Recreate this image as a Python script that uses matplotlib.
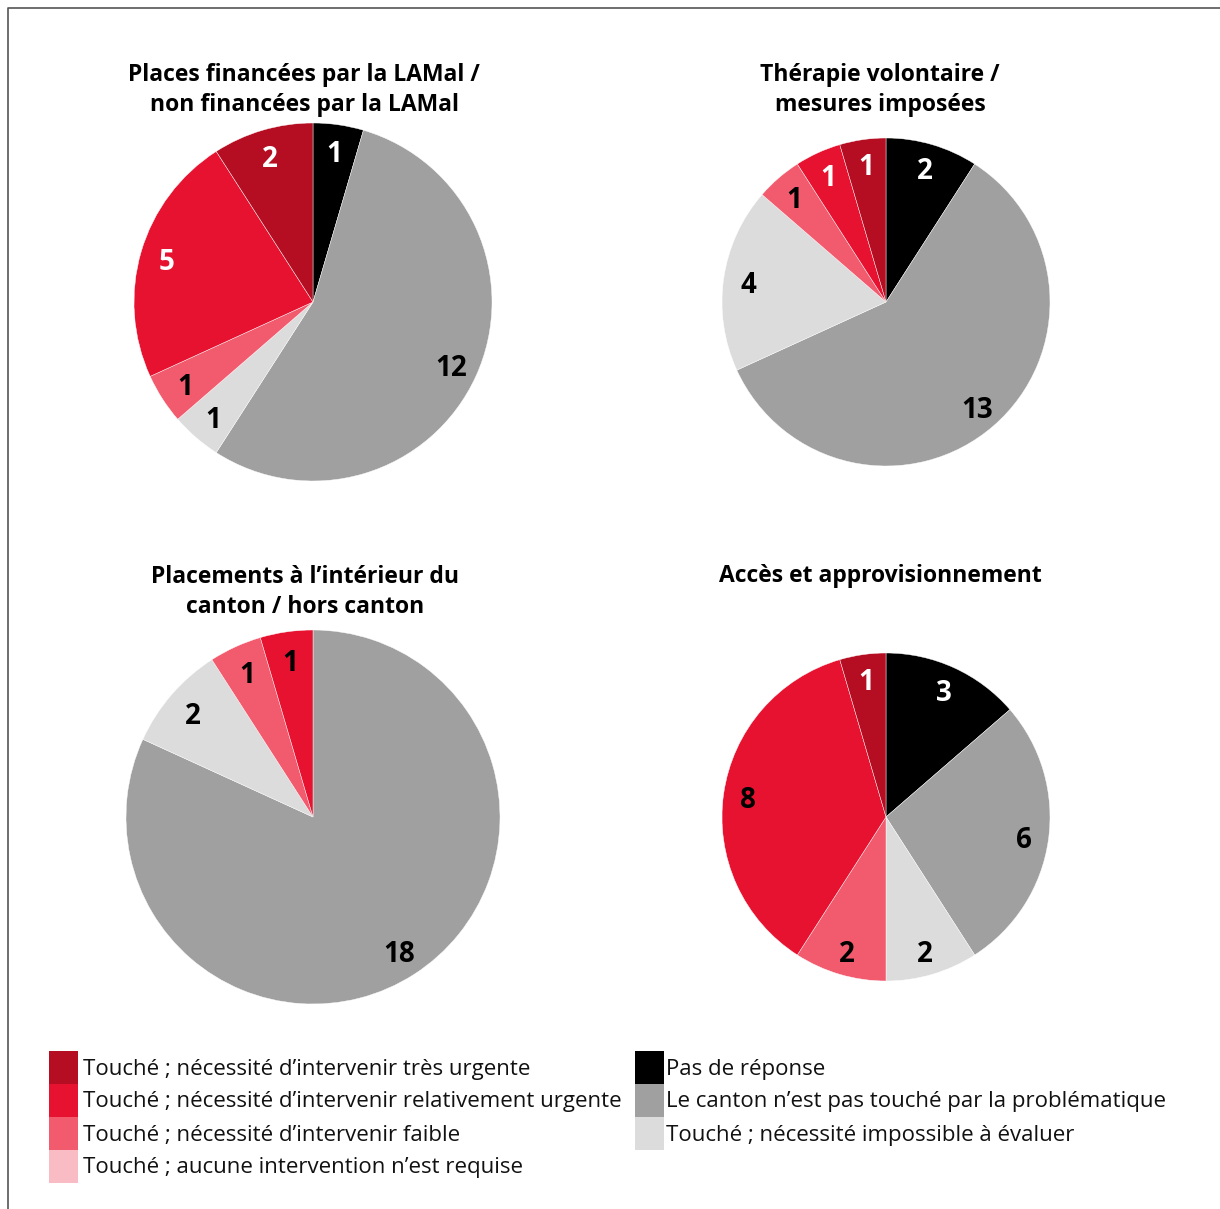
import matplotlib
matplotlib.use('Agg')
import matplotlib.pyplot as plt
from matplotlib.patches import Rectangle

plt.rcParams['font.family'] = ['Open Sans', 'DejaVu Sans']

categories = ['Pas de réponse',
              'Le canton n\u2019est pas touché par la problématique',
              'Touché ; nécessité impossible à évaluer',
              'Touché ; aucune intervention n\u2019est requise',
              'Touché ; nécessité d\u2019intervenir faible',
              'Touché ; nécessité d\u2019intervenir relativement urgente',
              'Touché ; nécessité d\u2019intervenir très urgente']
colors = ['#000000', '#a0a0a0', '#dcdcdc', '#f9bcc4', '#f25a6e', '#e61230', '#b50e22']

titles = ['Places financées par la LAMal /\nnon financées par la LAMal',
          'Thérapie volontaire /\nmesures imposées',
          'Placements à l\u2019intérieur du\ncanton / hors canton',
          'Accès et approvisionnement']
financement = [1, 12, 1, 0, 1, 5, 2]
therapie = [2, 13, 4, 0, 1, 1, 1]
placements = [0, 18, 2, 0, 1, 1, 0]
acces = [3, 6, 2, 0, 2, 8, 1]
series = [financement, therapie, placements, acces]

W, H = 1220, 1209
fig = plt.figure(figsize=(W / 100, H / 100), dpi=100)

# pie centres and radii in pixels, title positions
pies = [((313, 302), 179, (304, 90)),
        ((886, 302), 164, (880, 90)),
        ((313, 817), 187, (305, 592)),
        ((886, 817), 164, (880, 576))]

for k, (vals, title, ((cx, cy), r, (tx, ty))) in enumerate(zip(series, titles, pies)):
    ax = fig.add_axes([(cx - r) / W, (H - cy - r) / H, 2 * r / W, 2 * r / H])
    v = [x for x in vals if x > 0]
    c = [col for x, col in zip(vals, colors) if x > 0]
    wedges, texts = ax.pie(v, colors=c, startangle=90, counterclock=False, radius=1,
                           labels=[str(x) for x in v], labeldistance=0.85,
                           wedgeprops=dict(edgecolor='white', linewidth=0.3),
                           textprops=dict(fontsize=20, fontweight='bold'))
    for t, col in zip(texts, c):
        t.set_ha('center')
        t.set_va('center_baseline')
        white = col in ('#000000', '#b50e22') or (col == '#e61230' and k < 2)
        t.set_color('white' if white else 'black')
    ax.set_xlim(-1, 1)
    ax.set_ylim(-1, 1)
    ax.set_aspect('auto')
    fig.text(tx / W, 1 - ty / H, title, ha='center', va='center', fontsize=16.5,
             fontweight='bold', linespacing=1.3)

# overlay for legend and frame
ov = fig.add_axes([0, 0, 1, 1])
ov.set_xlim(0, W)
ov.set_ylim(H, 0)
ov.axis('off')
ov.plot([7.5, 7.5, W], [H, 7.5, 7.5], color='#555555', lw=1.2)

left = [6, 5, 4, 3]
right = [0, 1, 2]
for col_items, sx, tx in [(left, 49, 83), (right, 635, 666)]:
    for i, idx in enumerate(col_items):
        y0 = 1051 + i * 33
        ov.add_patch(Rectangle((sx, y0), 29, 33, color=colors[idx], lw=0))
        ov.text(tx, y0 + 18, categories[idx], ha='left', va='center', fontsize=16,
                color='#111111')

fig.savefig('out.png', dpi=100)
